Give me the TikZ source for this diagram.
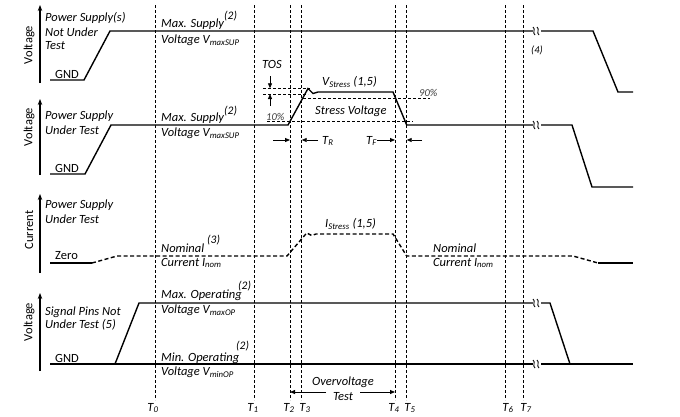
\documentclass[tikz,border=0pt]{standalone}
\usepackage{fontspec}
\setmainfont{Carlito}
\usetikzlibrary{arrows.meta}
\tikzset{
  sig/.style={line width=1.4pt, line join=miter},
  sigd/.style={line width=1.4pt, dash pattern=on 4pt off 2.5pt},
  tline/.style={line width=0.75pt, dash pattern=on 3pt off 2pt},
  hline/.style={line width=0.75pt, dash pattern=on 3pt off 2pt},
  axis/.style={line width=1.4pt, -{Stealth[length=6pt,width=4.5pt]}},
  marr/.style={line width=0.8pt, -{Triangle[length=5pt,width=4pt]}},
  lbl/.style={anchor=west, inner sep=0pt, font=\fontsize{12.5}{14}\selectfont\itshape},
  up/.style={anchor=west, inner sep=0pt, font=\fontsize{12.5}{14}\selectfont},
  ylab/.style={inner sep=0pt, rotate=90, font=\fontsize{12.5}{14}\selectfont},
  sup/.style={anchor=west, inner sep=0pt, font=\fontsize{11.5}{13}\selectfont\itshape},
  small/.style={anchor=west, inner sep=0pt, font=\fontsize{10.5}{12}\selectfont\itshape},
  tlab/.style={inner sep=0pt, font=\fontsize{12.5}{14}\selectfont\itshape},
}
\newcommand{\brk}[2]{%
  \draw[line width=0.9pt] (#1-4,#2-4) .. controls (#1-1,#2-2) and (#1-5,#2+2) .. (#1-2,#2+4);
  \draw[line width=0.9pt] (#1,#2-4) .. controls (#1+3,#2-2) and (#1-1,#2+2) .. (#1+2,#2+4);}
\begin{document}
\begin{tikzpicture}[x=1pt,y=-1pt]
\useasboundingbox[fill=white] (0,0) rectangle (680,416);

% vertical time lines
\foreach \n/\x in {0/155,1/254,2/290,3/301.7,4/395,5/406.7,6/505,7/523}{
  \coordinate (tt\n) at (\x,5);
  \coordinate (tb\n) at (\x,400);
  \draw[tline] (tt\n) -- (tb\n);
}
\node[tlab] (T0) at (153,408) {T\textsubscript{0}};
\node[tlab] (T1) at (253,408) {T\textsubscript{1}};
\node[tlab] (T2) at (289,408) {T\textsubscript{2}};
\node[tlab] (T3) at (305,408) {T\textsubscript{3}};
\node[tlab] (T4) at (394,408) {T\textsubscript{4}};
\node[tlab] (T5) at (410,408) {T\textsubscript{5}};
\node[tlab] (T6) at (508,408) {T\textsubscript{6}};
\node[tlab] (T7) at (526,408) {T\textsubscript{7}};

% ===== Panel 1 =====
\coordinate (a1b) at (40,83); \coordinate (a1t) at (40,5);
\draw[axis] (a1b) -- (a1t);
\node[ylab] (v1) at (29,45) {Voltage};
\node[lbl] (p1a) at (45,18) {Power Supply(s)};
\node[lbl] (p1b) at (45,32) {Not Under};
\node[lbl] (p1c) at (45,46) {Test};
\node[up] (g1) at (55,74) {GND};
\draw[sig] (50,80) -- (84,80) -- (110,31) -- (533,31);
\draw[sig] (541,31) -- (593,31) -- (618,92) -- (633,92);
\brk{537}{31}
\node[lbl] (m1) at (161,24) {Max. Supply};
\node[sup] (m1s) at (224,16) {(2)};
\node[lbl] (m1v) at (161,40) {Voltage V\textsubscript{maxSUP}};
\node[small] (n4) at (531,50) {(4)};

% ===== Panel 2 =====
\coordinate (a2b) at (40,175); \coordinate (a2t) at (40,99);
\draw[axis] (a2b) -- (a2t);
\node[ylab] (v2) at (29,127) {Voltage};
\node[lbl] (p2a) at (45,116) {Power Supply};
\node[lbl] (p2b) at (45,130) {Under Test};
\node[up] (g2) at (55,168) {GND};
\draw[sig] (50,174) -- (85,174) -- (111,125) -- (288,125) -- (308,88.5) -- (313,93.5) -- (318,92) -- (393,92) -- (406.7,125) -- (533,125);
\draw[sig] (541,125) -- (572,125) -- (592,187) -- (633,187);
\brk{537}{125}
\node[lbl] (m2) at (161,118) {Max. Supply};
\node[sup] (m2s) at (224,111) {(2)};
\node[lbl] (m2v) at (161,133) {Voltage V\textsubscript{maxSUP}};
% stress details
\draw[hline] (263,88.3) -- (310,88.3);
\draw[hline] (263,94) -- (308,94);
\draw[hline] (303,98) -- (430,98);
\draw[hline] (267,121.7) -- (413,121.7);
\coordinate (tosa) at (270,76); \coordinate (tosb) at (270,88.3);
\coordinate (tosc) at (270,106); \coordinate (tosd) at (270,94);
\draw[marr] (tosa) -- (tosb);
\draw[marr] (tosc) -- (tosd);
\node[tlab] (tos) at (272,64) {TOS};
\node[lbl] (vst) at (322,82) {V\textsubscript{Stress} (1,5)};
\node[small, text=black!75] (p90) at (419,92.5) {90\%};
\node[small, text=black!75] (p10) at (266,117) {10\%};
\node[lbl] (sv) at (315,111) {Stress Voltage};
\coordinate (r1) at (273,140); \coordinate (r2) at (290,140);
\coordinate (r3) at (318,140); \coordinate (r4) at (301.7,140);
\coordinate (f1) at (377,140); \coordinate (f2) at (395,140);
\coordinate (f3) at (422,140); \coordinate (f4) at (406.7,140);
\draw[marr] (r1) -- (r2);
\draw[marr] (r3) -- (r4);
\draw[marr] (f1) -- (f2);
\draw[marr] (f3) -- (f4);
\node[lbl] (tr) at (322,141) {T\textsubscript{R}};
\node[lbl] (tf) at (366,141) {T\textsubscript{F}};

% ===== Panel 3 =====
\coordinate (a3b) at (40,273); \coordinate (a3t) at (40,194);
\draw[axis] (a3b) -- (a3t);
\node[ylab] (v3) at (29,230) {Current};
\node[lbl] (p3a) at (45,205) {Power Supply};
\node[lbl] (p3b) at (45,219) {Under Test};
\node[up] (z3) at (55,256) {Zero};
\draw[sig] (50,263) -- (92,263);
\draw[sigd] (92,263) -- (117,256) -- (287,256) -- (306.7,233) -- (311.7,235.5) -- (316,234) -- (393,234) -- (406.7,256) -- (573,256) -- (598,263);
\draw[sig] (598,263) -- (633,263);
\node[lbl] (nm1) at (161,248) {Nominal};
\node[sup] (nm1s) at (207,240) {(3)};
\node[lbl] (ci1) at (161,263) {Current I\textsubscript{nom}};
\node[lbl] (ist) at (325,224) {I\textsubscript{Stress} (1,5)};
\node[lbl] (nm2) at (433,248) {Nominal};
\node[lbl] (ci2) at (433,263) {Current I\textsubscript{nom}};

% ===== Panel 4 =====
\coordinate (a4b) at (40,371); \coordinate (a4t) at (40,293);
\draw[axis] (a4b) -- (a4t);
\node[ylab] (v4) at (29,322) {Voltage};
\node[lbl] (p4a) at (45,312) {Signal Pins Not};
\node[lbl] (p4b) at (45,325) {Under Test (5)};
\node[up] (g4) at (55,358) {GND};
\draw[sig] (50,364) -- (533,364);
\draw[sig] (541,364) -- (633,364);
\draw[sig] (115,364) -- (139,303) -- (533,303);
\draw[sig] (541,303) -- (550,303) -- (570,364);
\brk{537}{303}
\brk{537}{364}
\node[lbl] (mo) at (161,295) {Max. Operating};
\node[sup] (mos) at (238,286) {(2)};
\node[lbl] (mov) at (161,310) {Voltage V\textsubscript{maxOP}};
\node[sup] (mis) at (236,346) {(2)};
\node[lbl] (mi) at (161,358) {Min. Operating};
\node[lbl] (miv) at (161,372) {Voltage V\textsubscript{minOP}};

% overvoltage test
\node[tlab] (ov) at (343,382) {Overvoltage};
\node[tlab] (ovt) at (343,397) {Test};
\coordinate (o1) at (326,392); \coordinate (o2) at (290,392);
\coordinate (o3) at (360,392); \coordinate (o4) at (395,392);
\draw[marr] (o1) -- (o2);
\draw[marr] (o3) -- (o4);
\end{tikzpicture}
\end{document}
